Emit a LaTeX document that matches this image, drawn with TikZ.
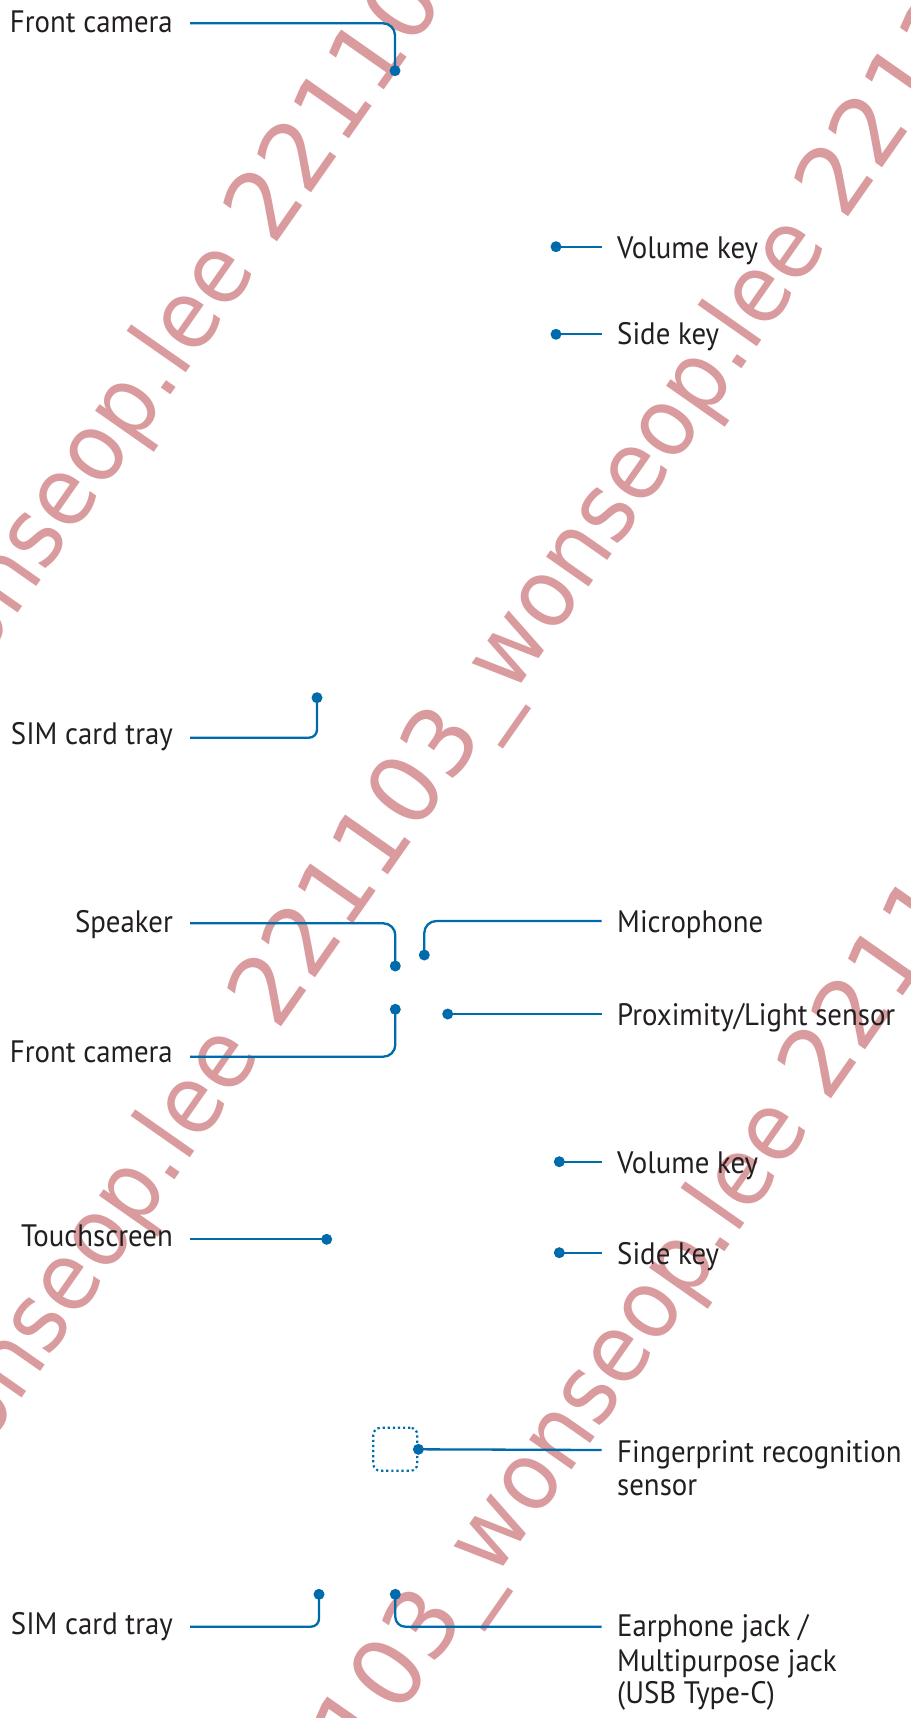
\documentclass[tikz,border=0pt]{standalone}
\usepackage{fontspec}
\setmainfont[FakeStretch=0.93]{PT Sans}
\newfontfamily\wmfont{DejaVu Sans}
\newfontfamily\wmnarrow[FakeStretch=0.925]{DejaVu Sans}
\usetikzlibrary{calc}
\definecolor{callblue}{RGB}{0,107,170}
\definecolor{txtgray}{RGB}{35,31,32}
\definecolor{wmpink}{RGB}{217,155,158}
\newcommand{\wmword}{{\wmnarrow wonseop.lee}}
\begin{document}
\begin{tikzpicture}[x=1pt,y=-1pt,
  lbl/.style={inner sep=0pt, text=txtgray, font=\fontsize{31}{33}\selectfont},
  lblL/.style={lbl, anchor=base east},
  lblR/.style={lbl, anchor=base west},
  dotnode/.style={circle, fill=callblue, inner sep=0pt, minimum size=11pt},
  conn/.style={draw=callblue, line width=2.3pt},
  wm/.style={inner sep=0pt, text=wmpink, font=\wmfont\fontsize{95}{95}\selectfont, rotate=55},
  fpbox/.style={draw=callblue, line width=2.2pt, dash pattern=on 2.2pt off 2.9pt, rounded corners=7pt, minimum width=44pt, minimum height=43pt, inner sep=0pt},
]
\useasboundingbox (0,0) rectangle (910,1718);
\fill[white] (0,0) rectangle (910,1718);
% watermark
\begin{scope}
\clip (0,0) rectangle (910,1718);
\node[wm, anchor=base east] (wmA1) at (273,248) {\wmword\kern0.29em};
\node[wm, anchor=base west] (wmA2) at (273,248) {221103};
\node[wm, anchor=base east] (wmB1) at (277,1033) {03\_\wmword\kern0.29em};
\node[wm, anchor=base west] (wmB2) at (277,1033) {221103\_\wmword\kern0.29em 221103};
\node[wm, anchor=base east] (wmC1) at (827,1105) {221103\_\wmword\kern0.29em};
\node[wm, anchor=base west] (wmC2) at (827,1105) {221103};
\end{scope}

% Front camera (top)
\node[lblL] (fcA) at (173,33) {Front camera};
\node[dotnode] (fcAd) at (395,70.7) {};
\draw[conn, rounded corners=12pt] (fcAd.center) |- ($(fcA.base east)+(17,-9.7)$);

% Volume key (top)
\node[lblR] (vkA) at (617,258.3) {Volume key};
\node[dotnode] (vkAd) at (556,246.7) {};
\draw[conn] (vkAd.center) -- ($(vkA.base west)+(-15.3,-11.6)$);

% Side key (top)
\node[lblR] (skA) at (617,344.3) {Side key};
\node[dotnode] (skAd) at (556,334.3) {};
\draw[conn] (skAd.center) -- ($(skA.base west)+(-15.3,-10)$);

% SIM card tray (top)
\node[lblL] (simA) at (173,744.3) {SIM card tray};
\node[dotnode] (simAd) at (317,697.7) {};
\draw[conn, rounded corners=8pt] (simAd.center) |- ($(simA.base east)+(17,-6.6)$);

% Speaker
\node[lblL] (spk) at (173,932.7) {Speaker};
\node[dotnode] (spkd) at (395.3,966) {};
\draw[conn, rounded corners=12pt] (spkd.center) |- ($(spk.base east)+(17,-9.4)$);

% Microphone
\node[lblR] (mic) at (617,932.7) {Microphone};
\node[dotnode] (micd) at (424.3,955) {};
\draw[conn, rounded corners=12pt] (micd.center) |- ($(mic.base west)+(-15.3,-11.7)$);

% Front camera (lower)
\node[lblL] (fcB) at (173,1062.7) {Front camera};
\node[dotnode] (fcBd) at (395.3,1009.3) {};
\draw[conn, rounded corners=12pt] (fcBd.center) |- ($(fcB.base east)+(17,-6)$);

% Proximity/Light sensor
\node[lblR] (prx) at (617,1025.7) {Proximity/Light sensor};
\node[dotnode] (prxd) at (447.7,1014) {};
\draw[conn] (prxd.center) -- ($(prx.base west)+(-15.3,-11.7)$);

% Volume key (lower)
\node[lblR] (vkB) at (617,1173.3) {Volume key};
\node[dotnode] (vkBd) at (559.3,1161.7) {};
\draw[conn] (vkBd.center) -- ($(vkB.base west)+(-15.3,-11.6)$);

% Touchscreen
\node[lblL] (tch) at (173,1246.7) {Touchscreen};
\node[dotnode] (tchd) at (326.7,1239.3) {};
\draw[conn] (tchd.center) -- ($(tch.base east)+(17,-7.4)$);

% Side key (lower)
\node[lblR] (skB) at (617,1264.3) {Side key};
\node[dotnode] (skBd) at (559.3,1252.7) {};
\draw[conn] (skBd.center) -- ($(skB.base west)+(-15.3,-11.6)$);

% Fingerprint recognition sensor
\node[fpbox] (fp) at (395.3,1449.3) {};
\node[lblR] (fpt1) at (617,1462.3) {Fingerprint recognition};
\node[lblR] (fpt2) at (617,1495) {sensor};
\node[dotnode] (fpd) at (fp.east) {};
\draw[conn] (fpd.center) -- ($(fpt1.base west)+(-15.3,-12.3)$);

% SIM card tray (lower)
\node[lblL] (simB) at (173,1634.3) {SIM card tray};
\node[dotnode] (simBd) at (319,1594.3) {};
\draw[conn, rounded corners=8pt] (simBd.center) |- ($(simB.base east)+(17,-7.6)$);

% Earphone jack
\node[lblR] (ej1) at (617,1636.7) {Earphone jack /};
\node[lblR] (ej2) at (617,1671) {Multipurpose jack};
\node[lblR] (ej3) at (617,1703.3) {(USB Type-C)};
\node[dotnode] (ejd) at (395.3,1594.3) {};
\draw[conn, rounded corners=10pt] (ejd.center) |- ($(ej1.base west)+(-15.3,-10)$);
\end{tikzpicture}
\end{document}
